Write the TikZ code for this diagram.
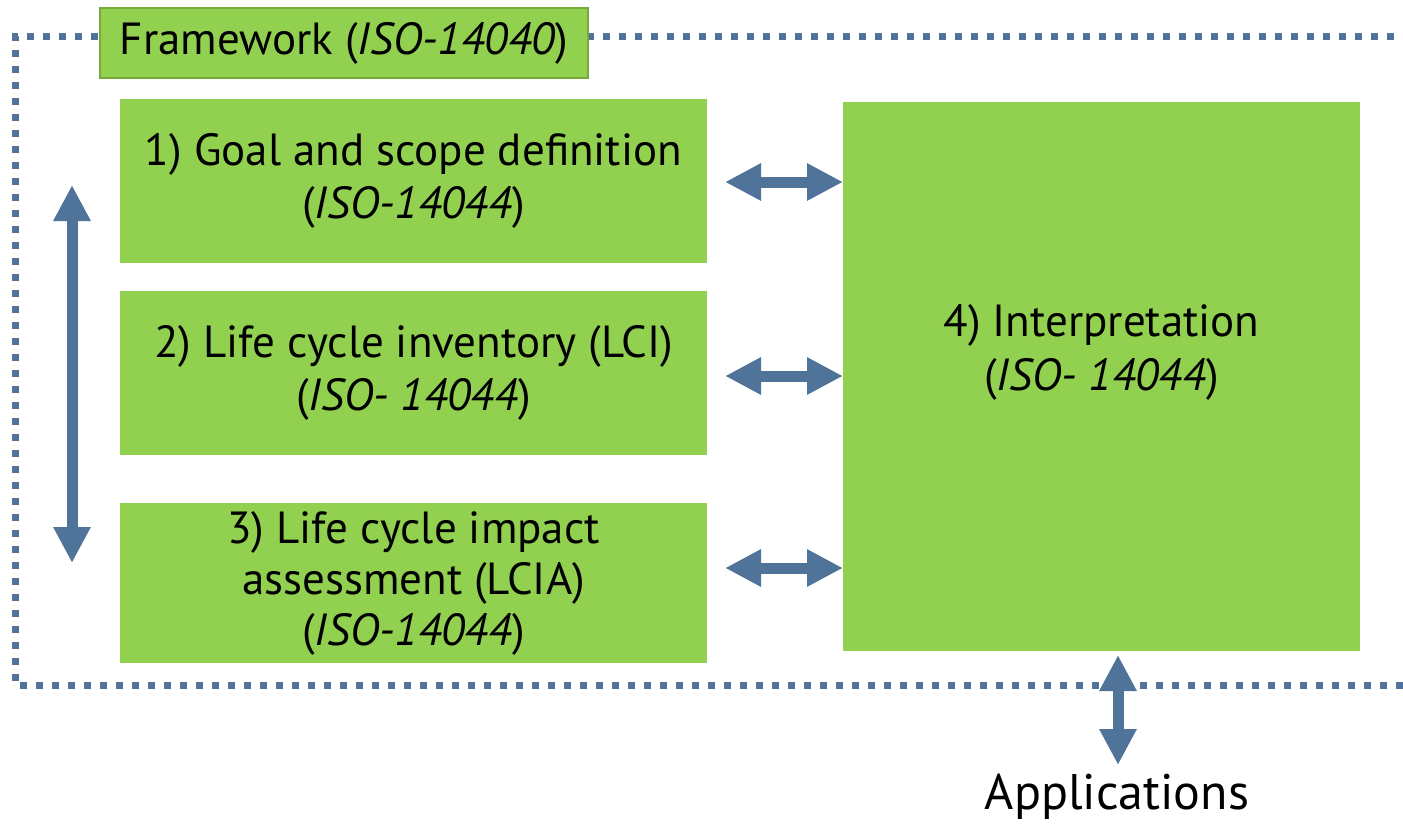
\documentclass[tikz,border=0pt]{standalone}
\usepackage{fontspec}
\setmainfont{PT Sans}
\usetikzlibrary{arrows.meta,positioning,calc}
\definecolor{phasegreen}{HTML}{92D050}
\definecolor{phaseedge}{HTML}{77A83A}
\definecolor{linkblue}{HTML}{50739A}

\begin{document}
\begin{tikzpicture}[
  x=1pt, y=-1pt,
  phase/.style={
    rectangle,
    fill=phasegreen,
    draw=none,
    minimum height=164pt, minimum width=587pt,
    align=center,
    font=\fontsize{45}{53}\selectfont,
    outer sep=0pt
  },
  interp/.style={
    rectangle,
    fill=phasegreen,
    draw=none,
    minimum height=549pt, minimum width=517pt,
    outer sep=0pt
  },
  framework/.style={
    rectangle,
    fill=phasegreen,
    draw=phaseedge,
    line width=2pt,
    minimum height=70pt, minimum width=488pt,
    font=\fontsize{45}{53}\selectfont,
    outer sep=0pt
  },
  border/.style={
    draw=linkblue,
    line width=7pt,
    dash pattern=on 7pt off 9pt
  },
  link/.style={
    draw=linkblue,
    line width=11pt,
    {Triangle[length=36pt,width=35pt]}-{Triangle[length=36pt,width=35pt]}
  }
  ]
\useasboundingbox (0,0) rectangle (1403,824);
% Framework border
\draw[border] (1410,37) -- (15,37) -- (15,685) -- (1410,685);
\node [framework] (framework) at (344,43) {Framework (\textit{ISO-14040})};
% Phases
\node [phase] (goal) at (413.5,181) {1) Goal and scope definition\\(\textit{ISO-14044})};
\node [phase] (inventory) at (413.5,373) {2) Life cycle inventory (LCI)\\(\textit{ISO- 14044})};
\node [phase, minimum height=160pt, font=\fontsize{45}{51}\selectfont] (impact) at (413.5,583) {3) Life cycle impact\\assessment (LCIA)\\(\textit{ISO-14044})};
% Interpretation
\node [interp, label={[align=center, font=\fontsize{45}{54}\selectfont, yshift=24pt]center:4) Interpretation\\(\textit{ISO- 14044})}] (interpretation) at (1101.5,376.5) {};
\draw[link] ([xshift=18pt,yshift=-1pt]goal.east) -- ([yshift=-1pt]goal.east -| interpretation.west);
\draw[link] ([xshift=18pt,yshift=-3pt]inventory.east) -- ([yshift=-3pt]inventory.east -| interpretation.west);
\draw[link] ([xshift=18pt,yshift=15pt]impact.east) -- ([yshift=15pt]impact.east -| interpretation.west);
% Iteration between phases
\coordinate (iter top) at (72,185);
\coordinate (iter bottom) at (72,563);
\draw[link] (iter top) -- (iter bottom);
% Applications
\node [font=\fontsize{50}{60}\selectfont, inner sep=0pt] (applications) at (1117,797) {Applications};
\coordinate (apps link) at (1118,655);
\draw[link] (apps link) -- (apps link |- 0,765);
\end{tikzpicture}
\end{document}
